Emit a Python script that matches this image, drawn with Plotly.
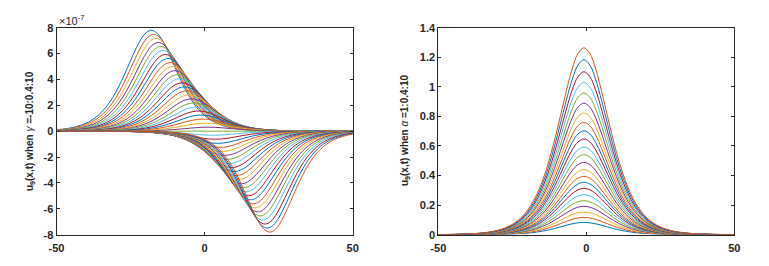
import plotly.graph_objects as go

# ---------------- data ----------------
# normalized pulse profile (offset from curve centre, step 2)
profile_offsets_half = [0, 2, 4, 6, 8, 10, 12, 14, 16, 18, 20, 22, 24, 26, 28, 30, 32, 34, 36,
                        38, 40, 42, 44, 46, 48, 50, 52, 54, 56, 58, 60, 62, 64, 66, 68, 70, 72]
profile_values_half = [1.0, 0.9697, 0.8857, 0.7652, 0.6313, 0.5010, 0.3851, 0.2891, 0.2131,
                       0.1550, 0.1117, 0.0799, 0.0569, 0.0403, 0.0285, 0.0202, 0.0142, 0.0100,
                       0.0071, 0.0050, 0.0035, 0.0025, 0.0017, 0.0012, 0.0009, 0.0006, 0.0004,
                       0.0003, 0.0002, 0.00015, 0.0001, 0.00008, 0.00005, 0.00004, 0.00003,
                       0.00002, 0.00001]

# left panel: gamma = -10:0.4:10 (51 curves), peak value (x1e-7) and peak position
gamma_values = [-10, -9.6, -9.2, -8.8, -8.4, -8, -7.6, -7.2, -6.8, -6.4, -6, -5.6, -5.2, -4.8,
                -4.4, -4, -3.6, -3.2, -2.8, -2.4, -2, -1.6, -1.2, -0.8, -0.4, 0, 0.4, 0.8, 1.2,
                1.6, 2, 2.4, 2.8, 3.2, 3.6, 4, 4.4, 4.8, 5.2, 5.6, 6, 6.4, 6.8, 7.2, 7.6, 8, 8.4,
                8.8, 9.2, 9.6, 10]
left_peaks = [7.80, 7.49, 7.18, 6.86, 6.55, 6.24, 5.93, 5.62, 5.30, 4.99, 4.68, 4.37, 4.06,
              3.74, 3.43, 3.12, 2.81, 2.50, 2.18, 1.87, 1.56, 1.25, 0.94, 0.62, 0.31, 0.0,
              -0.31, -0.62, -0.94, -1.25, -1.56, -1.87, -2.18, -2.50, -2.81, -3.12, -3.43,
              -3.74, -4.06, -4.37, -4.68, -4.99, -5.30, -5.62, -5.93, -6.24, -6.55, -6.86,
              -7.18, -7.49, -7.80]
left_centers = [-18.0, -17.2, -16.4, -15.6, -14.8, -14.0, -13.2, -12.4, -11.6, -10.8, -10.0,
                -9.2, -8.4, -7.6, -6.8, -6.0, -5.2, -4.4, -3.6, -2.8, -2.0, -1.2, -0.4, 0.4,
                1.2, 2.0, 2.8, 3.6, 4.4, 5.2, 6.0, 6.8, 7.6, 8.4, 9.2, 10.0, 10.8, 11.6, 12.4,
                13.2, 14.0, 14.8, 15.6, 16.4, 17.2, 18.0, 18.8, 19.6, 20.4, 21.2, 22.0]
left_scale = 1e-7
left_ytick_labels = ["-8", "-6", "-4", "-2", "0", "2", "4", "6", "8"]

# right panel: alpha = 1:0.4:10 (23 curves), peak values
alpha_values = [1, 1.4, 1.8, 2.2, 2.6, 3, 3.4, 3.8, 4.2, 4.6, 5, 5.4, 5.8, 6.2, 6.6, 7, 7.4,
                7.8, 8.2, 8.6, 9, 9.4, 9.8]
right_peaks = [0.083, 0.117, 0.153, 0.192, 0.230, 0.270, 0.313, 0.354, 0.394, 0.440, 0.489,
               0.541, 0.593, 0.647, 0.703, 0.760, 0.823, 0.890, 0.958, 1.030, 1.102, 1.183,
               1.264]
right_center = -0.8
right_ytick_labels = ["0", "0.2", "0.4", "0.6", "0.8", "1", "1.2", "1.4"]

x_tick_labels = ["-50", "0", "50"]

# --------------- styling ---------------
colors = ['#0072BD', '#D95319', '#EDB120', '#7E2F8E', '#77AC30', '#4DBEEE', '#A2142F']
W, H = 769, 266
FONT = "Liberation Sans, Arial, sans-serif"
AX = '#262626'

offsets = [-d for d in profile_offsets_half[::-1]] + profile_offsets_half[1:]
pvals = profile_values_half[::-1] + profile_values_half[1:]

fig = go.Figure()

for i, (g, a, c) in enumerate(zip(gamma_values, left_peaks, left_centers)):
    fig.add_trace(go.Scatter(
        x=[c + d for d in offsets], y=[a * left_scale * p for p in pvals],
        mode='lines', line=dict(color=colors[i % 7], width=1, shape='spline'),
        xaxis='x', yaxis='y', showlegend=False, hoverinfo='skip'))

for i, (al, a) in enumerate(zip(alpha_values, right_peaks)):
    fig.add_trace(go.Scatter(
        x=[right_center + d for d in offsets], y=[a * p for p in pvals],
        mode='lines', line=dict(color=colors[i % 7], width=1, shape='spline'),
        xaxis='x2', yaxis='y2', showlegend=False, hoverinfo='skip'))

x0a, x1a = 56.5 / W, 352.7 / W
x0b, x1b = 438.3 / W, 734.3 / W
y0, y1 = 1 - 234.7 / H, 1 - 27.7 / H

common = dict(showline=True, mirror='ticks', linecolor=AX, linewidth=1, ticks='inside',
              ticklen=3, tickcolor=AX, tickwidth=1, showgrid=False, zeroline=False,
              automargin=False,
              tickfont=dict(family=FONT, size=11, color=AX, weight='bold'))

xt = [float(t) for t in x_tick_labels]
fig.update_layout(
    width=W, height=H, paper_bgcolor='white', plot_bgcolor='white',
    margin=dict(l=0, r=0, t=0, b=0, autoexpand=False),
    xaxis=dict(domain=[x0a, x1a], range=[-50, 50], tickvals=xt, ticktext=x_tick_labels,
               anchor='y', ticklabelstandoff=3, **common),
    yaxis=dict(domain=[y0, y1], range=[-8e-7, 8e-7],
               tickvals=[float(t) * left_scale for t in left_ytick_labels],
               ticktext=left_ytick_labels, anchor='x', **common),
    xaxis2=dict(domain=[x0b, x1b], range=[-50, 50], tickvals=xt, ticktext=x_tick_labels,
                anchor='y2', ticklabelstandoff=3, **common),
    yaxis2=dict(domain=[y0, y1], range=[0, 1.4],
                tickvals=[float(t) for t in right_ytick_labels],
                ticktext=right_ytick_labels, anchor='x2', **common),
)

fig.add_annotation(xref='paper', yref='paper', x=57 / W, y=1 - 20 / H, xanchor='left',
                   yanchor='middle', showarrow=False,
                   text='×10<sup>-7</sup>', font=dict(family=FONT, size=11, color=AX))

fig.add_annotation(xref='paper', yref='paper', x=30 / W, y=1 - 131 / H, textangle=-90,
                   showarrow=False, xanchor='center', yanchor='middle',
                   text='<b>u<sub>9</sub>(x,t) when </b><i>γ</i><b> =-10:0.4:10</b>',
                   font=dict(family=FONT, size=10, color=AX))
fig.add_annotation(xref='paper', yref='paper', x=405 / W, y=1 - 131 / H, textangle=-90,
                   showarrow=False, xanchor='center', yanchor='middle',
                   text='<b>u<sub>9</sub>(x,t) when </b><i>α</i><b> =1:0.4:10</b>',
                   font=dict(family=FONT, size=10, color=AX))

fig.write_html("out.html", config={'displayModeBar': False})

# remove the default page margin so the figure sits at the window's top-left corner
with open("out.html", encoding="utf-8") as f:
    html = f.read()
html = html.replace("<head>", "<head><style>html,body{margin:0;padding:0;overflow:hidden;}</style>", 1)
with open("out.html", "w", encoding="utf-8") as f:
    f.write(html)
